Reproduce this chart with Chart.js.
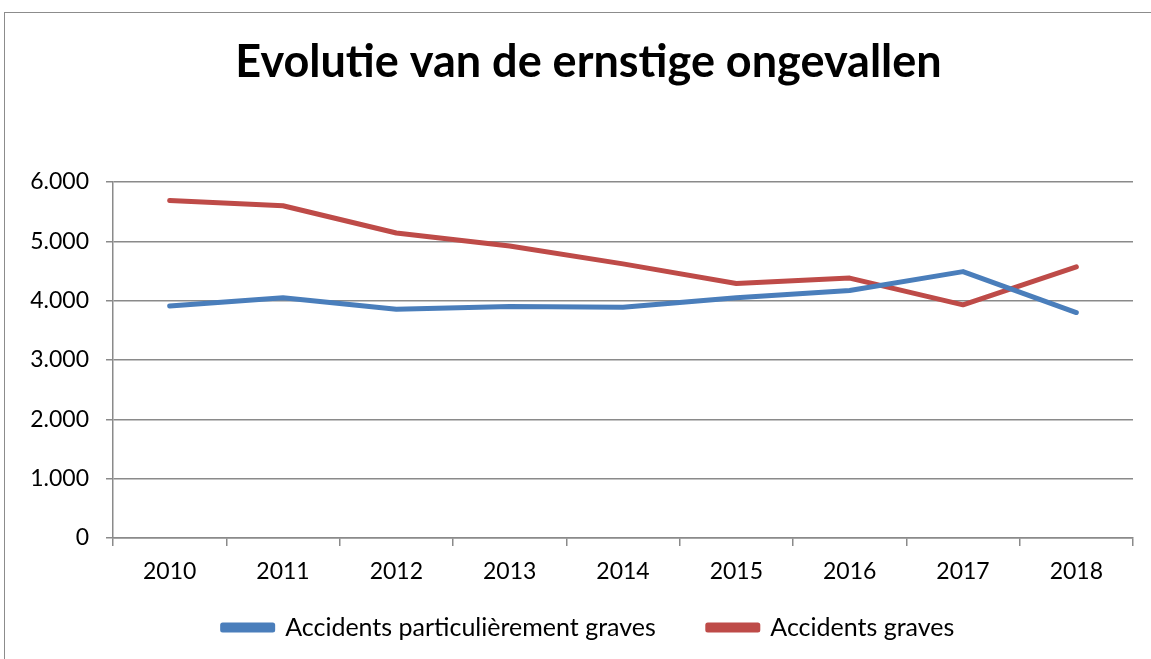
<!DOCTYPE html>
<html>
<head>
<meta charset="utf-8">
<script src="https://cdn.jsdelivr.net/npm/chart.js@4"></script>
<style>
  html, body { margin: 0; padding: 0; background: #fff; overflow: hidden; }
  #frame { position: absolute; left: 4px; top: 12px; width: 1200px; height: 700px; border: 1.5px solid #8c8c8c; }
  #wrap { position: absolute; left: 0; top: 0; width: 1151px; height: 659px; }
</style>
</head>
<body>
<div id="frame"></div>
<div id="wrap"><canvas id="chart" width="1151" height="659"></canvas></div>
<script>
const years = ['2010', '2011', '2012', '2013', '2014', '2015', '2016', '2017', '2018'];
const particulierementGraves = [3910, 4050, 3855, 3900, 3890, 4050, 4170, 4490, 3800];
const graves = [5690, 5600, 5140, 4920, 4620, 4290, 4380, 3930, 4570];
const yTicks = [0, 1000, 2000, 3000, 4000, 5000, 6000];

const font = 'Lato, "Liberation Sans", sans-serif';
const gridGray = '#8a8a8a';

function fmt(v) {
    if (v === 0) return '0';
    return Math.floor(v / 1000) + '.' + String(v % 1000).padStart(3, '0');
}

// title and legend are centred on the whole frame in the original, not on the canvas minus padding
const nudgeBoxes = {
    id: 'nudgeBoxes',
    afterLayout(chart) {
        const t = chart.titleBlock;
        const l = chart.legend;
        t.left += 22; t.right += 22;
        l.left += 22; l.right += 22;
        l.top -= 25; l.height += 25;
    }
};

const ctx = document.getElementById('chart').getContext('2d');
new Chart(ctx, {
    type: 'line',
    data: {
        labels: years,
        datasets: [{
            label: 'Accidents particulièrement graves',
            data: particulierementGraves,
            borderColor: '#4a7ebb',
            backgroundColor: '#4a7ebb',
            borderWidth: 5,
            borderCapStyle: 'round',
            borderJoinStyle: 'round',
            pointRadius: 0,
            tension: 0
        }, {
            label: 'Accidents graves',
            data: graves,
            borderColor: '#be4b48',
            backgroundColor: '#be4b48',
            borderWidth: 5,
            borderCapStyle: 'round',
            borderJoinStyle: 'round',
            pointRadius: 0,
            tension: 0
        }]
    },
    plugins: [nudgeBoxes],
    options: {
        responsive: false,
        animation: false,
        layout: { padding: { left: 0, right: 18, top: 0, bottom: 0 } },
        plugins: {
            title: {
                display: true,
                text: 'Evolutie van de ernstige ongevallen',
                color: '#000',
                font: { family: font, size: 45, weight: 'bold' },
                padding: { top: 35, bottom: 93 }
            },
            legend: {
                position: 'bottom',
                maxHeight: 71,
                labels: {
                    color: '#000',
                    font: { family: font, size: 25 },
                    boxWidth: 50,
                    boxHeight: 5,
                    padding: 52
                }
            },
            tooltip: { enabled: false }
        },
        scales: {
            x: {
                offset: true,
                grid: {
                    offset: true,
                    drawOnChartArea: false,
                    drawTicks: true,
                    tickLength: 8,
                    color: gridGray,
                    lineWidth: 1.5
                },
                border: { color: gridGray, width: 1.5 },
                ticks: { color: '#000', font: { family: font, size: 23 }, padding: 12, maxRotation: 0 },
                afterFit: s => { s.height = 50; }
            },
            y: {
                min: 0,
                max: 6000,
                afterBuildTicks: s => { s.ticks = yTicks.map(v => ({ value: v })); },
                grid: { color: gridGray, lineWidth: 1.5, tickLength: 7 },
                border: { color: gridGray, width: 1.5 },
                ticks: {
                    color: '#000',
                    font: { family: font, size: 23 },
                    padding: 17,
                    callback: v => fmt(v)
                },
                afterFit: s => { s.width = 113; }
            }
        }
    }
});
</script>
</body>
</html>
